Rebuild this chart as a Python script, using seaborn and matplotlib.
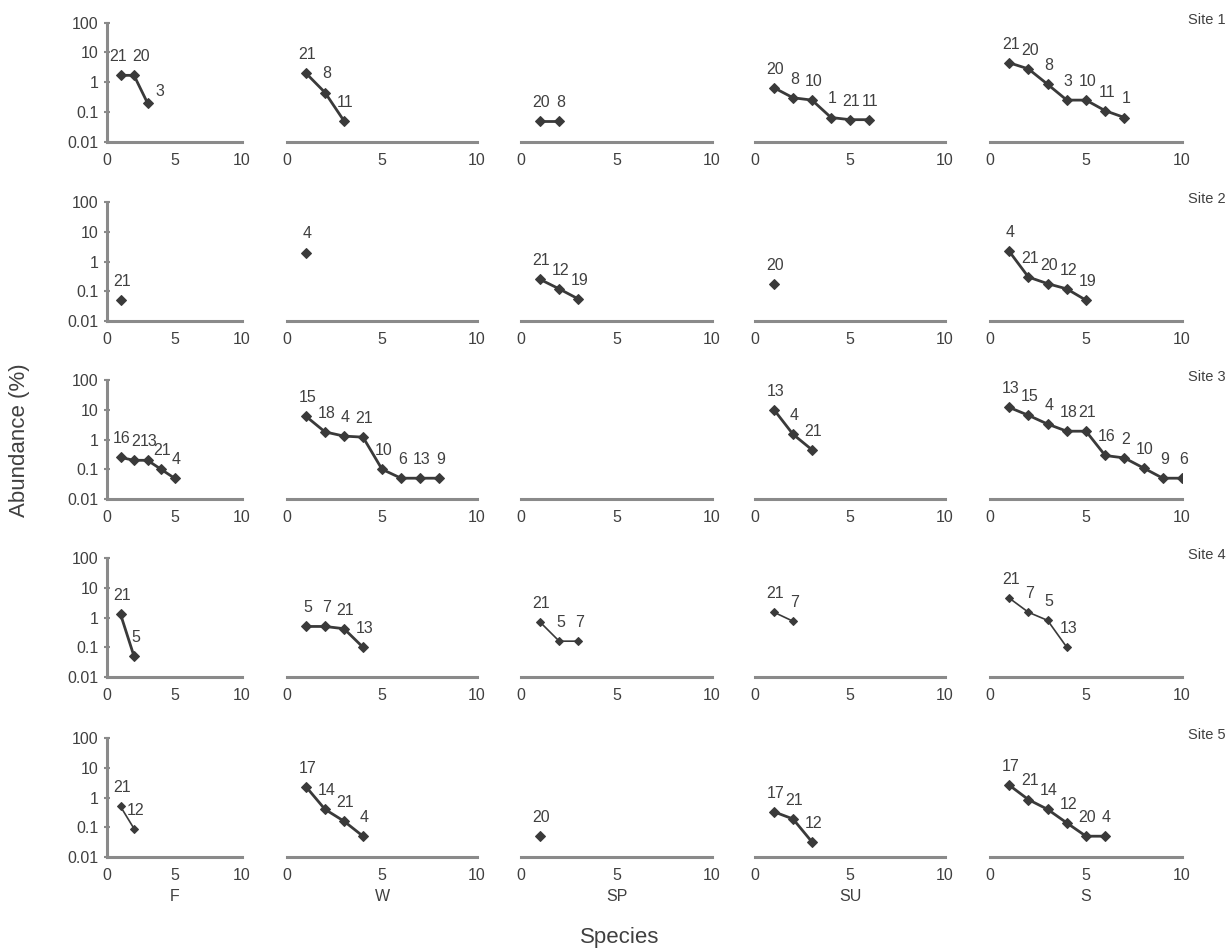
import matplotlib
matplotlib.use("Agg")
import matplotlib.pyplot as plt
import seaborn as sns
import pandas as pd

seasons = ["F", "W", "SP", "SU", "S"]
sites = ["Site 1", "Site 2", "Site 3", "Site 4", "Site 5"]

# abundance (%) per season [F, W, SP, SU, S], ranked; species numbers as labels
site1_abund = [[1.7, 1.7, 0.2], [2.0, 0.45, 0.05], [0.05, 0.05],
               [0.65, 0.3, 0.25, 0.065, 0.055, 0.055],
               [4.5, 2.8, 0.85, 0.25, 0.25, 0.11, 0.065]]
site1_species = [[21, 20, 3], [21, 8, 11], [20, 8], [20, 8, 10, 1, 21, 11],
                 [21, 20, 8, 3, 10, 11, 1]]

site2_abund = [[0.05], [2.0], [0.25, 0.12, 0.055], [0.17],
               [2.2, 0.3, 0.18, 0.12, 0.05]]
site2_species = [[21], [4], [21, 12, 19], [20], [4, 21, 20, 12, 19]]

site3_abund = [[0.25, 0.2, 0.2, 0.1, 0.05],
               [6.0, 1.8, 1.3, 1.2, 0.1, 0.05, 0.05, 0.05], [],
               [10.0, 1.5, 0.45],
               [12.0, 6.5, 3.3, 1.9, 1.9, 0.29, 0.24, 0.11, 0.05, 0.05]]
site3_species = [[16, 2, 13, 21, 4], [15, 18, 4, 21, 10, 6, 13, 9], [],
                 [13, 4, 21], [13, 15, 4, 18, 21, 16, 2, 10, 9, 6]]

site4_abund = [[1.3, 0.05], [0.5, 0.5, 0.42, 0.1], [0.7, 0.16, 0.16],
               [1.5, 0.75], [4.5, 1.5, 0.8, 0.1]]
site4_species = [[21, 5], [5, 7, 21, 13], [21, 5, 7], [21, 7], [21, 7, 5, 13]]

site5_abund = [[0.5, 0.09], [2.3, 0.4, 0.16, 0.05], [0.05],
               [0.33, 0.19, 0.032], [2.6, 0.85, 0.4, 0.14, 0.05, 0.05]]
site5_species = [[21, 12], [17, 14, 21, 4], [20], [17, 21, 12],
                 [17, 21, 14, 12, 20, 4]]

y_ticks = [0.01, 0.1, 1, 10, 100]
y_tick_labels = ["0.01", "0.1", "1", "10", "100"]
x_ticks = [0, 5, 10]

all_abund = [site1_abund, site2_abund, site3_abund, site4_abund, site5_abund]
all_species = [site1_species, site2_species, site3_species, site4_species, site5_species]

rows = []
for si, site in enumerate(sites):
    for ci, season in enumerate(seasons):
        for r, (v, sp) in enumerate(zip(all_abund[si][ci], all_species[si][ci])):
            rows.append({"site": site, "season": season, "rank": r + 1,
                         "abund": v, "species": sp})
df = pd.DataFrame(rows)

sns.set_theme(style="white")
plt.rcParams["font.family"] = ["Liberation Sans", "DejaVu Sans"]

W, H = 1229, 952
fig = plt.figure(figsize=(W / 100, H / 100), dpi=100)

row_tops = [22.7, 202, 380, 558, 738]
row_h = 119
col_lefts = [107, 287, 521, 755, 990]
col_w = [135, 190, 191, 190, 192]

text_c = "#404040"
axis_c = "#8a8a8a"
line_c = "#3a3a3a"
thin = {("Site 4", "SP"), ("Site 4", "SU"), ("Site 4", "S"), ("Site 5", "F")}
# label nudges (offset points) where labels would collide
nudge = {("Site 1", "F", 1): (-2, 8), ("Site 1", "F", 2): (5, 8),
         ("Site 1", "F", 3): (9, 3)}

for si, site in enumerate(sites):
    for ci, season in enumerate(seasons):
        ax = fig.add_axes([col_lefts[ci] / W, 1 - (row_tops[si] + row_h) / H,
                           col_w[ci] / W, row_h / H])
        ax.set_yscale("log")
        sub = df[(df.site == site) & (df.season == season)]
        lw = 1.2 if (site, season) in thin else 2.0
        ms = 3.8 if (site, season) in thin else 5
        if len(sub):
            sns.lineplot(data=sub, x="rank", y="abund", ax=ax, estimator=None,
                         marker="D", markersize=ms, color=line_c, linewidth=lw,
                         markeredgecolor=line_c)
            for _, rw in sub.iterrows():
                off = nudge.get((site, season, rw["rank"]), (1, 8))
                ax.annotate(str(rw["species"]), (rw["rank"], rw["abund"]),
                            xytext=off, textcoords="offset points",
                            ha="center", va="bottom", fontsize=11.5,
                            color=text_c)
        ax.set_xlim(0, 10)
        ax.set_ylim(0.01, 100)
        ax.set_xticks(x_ticks)
        ax.set_xticklabels([str(t) for t in x_ticks])
        ax.minorticks_off()
        for s in ["top", "right"]:
            ax.spines[s].set_visible(False)
        ax.spines["bottom"].set_color(axis_c)
        ax.spines["bottom"].set_linewidth(2.2)
        ax.tick_params(axis="x", colors=axis_c, labelcolor=text_c, labelsize=11.5,
                       length=4, width=1.5, pad=6, direction="inout")
        if ci == 0:
            ax.spines["left"].set_color(axis_c)
            ax.spines["left"].set_linewidth(2.2)
            ax.set_yticks(y_ticks)
            ax.set_yticklabels(y_tick_labels)
            ax.tick_params(axis="y", colors=axis_c, labelcolor=text_c,
                           labelsize=11.5, length=4, width=1.5, pad=4,
                           direction="inout", left=True)
        else:
            ax.spines["left"].set_visible(False)
            ax.set_yticks([])
        ax.set_ylabel("")
        if si == len(sites) - 1:
            ax.set_xlabel(season, fontsize=11.5, color=text_c, labelpad=4)
        else:
            ax.set_xlabel("")
    fig.text(1226 / W, 1 - (row_tops[si] - 3) / H, site, ha="right", va="center",
             fontsize=10.5, color=text_c)

fig.text(620 / W, 1 - 938 / H, "Species", ha="center", va="center",
         fontsize=16, color=text_c)
fig.text(20 / W, 1 - 440 / H, "Abundance (%)", ha="center", va="center",
         rotation=90, fontsize=16, color=text_c)

fig.savefig("out.png", dpi=100)
